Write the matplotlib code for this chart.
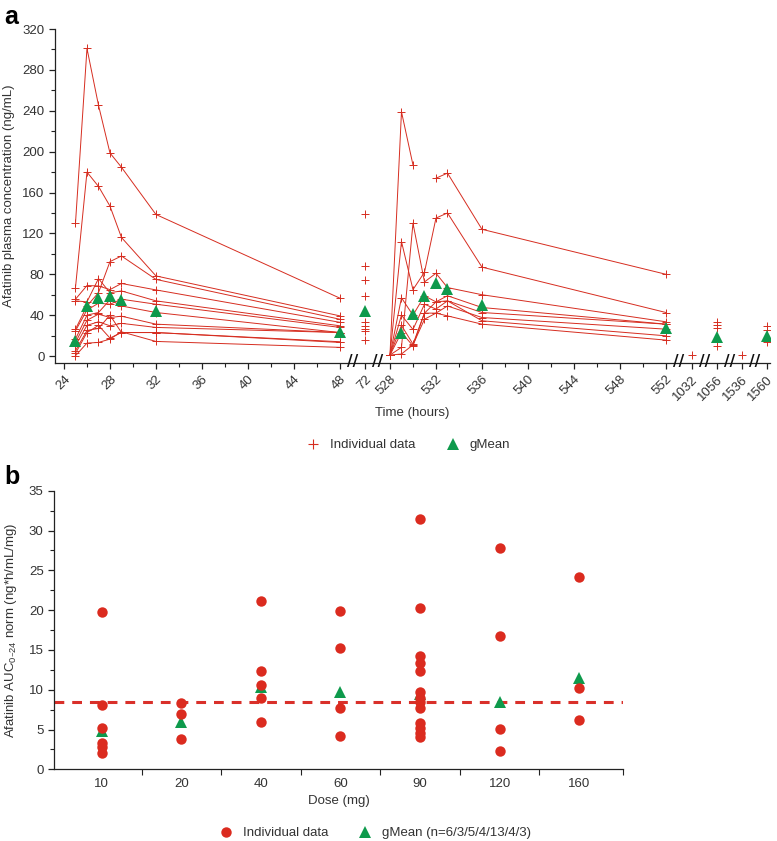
import numpy as np
import matplotlib.pyplot as plt
from matplotlib.lines import Line2D
from matplotlib.ticker import FixedLocator, MultipleLocator
import matplotlib.transforms as mtransforms

plt.rcParams['font.family'] = ['Liberation Sans', 'DejaVu Sans']
plt.rcParams['mathtext.default'] = 'regular'

RED = '#d62d20'
GREEN = '#0e9a4c'
TXT = '#333333'
FS = 9.5

# ---- panel a data: plasma concentration (ng/mL) ----
T1 = [25, 26, 27, 28, 29, 32, 48]
CYCLE1 = [
    [129.8, 301, 245.5, 198.7, 184.7, 138.5, 56.6],
    [67, 180, 166, 146.7, 116, 78.4, 39.3],
    [26.3, 49, 62, 92.4, 97.9, 75, 36],
    [55.6, 69, 68.6, 65, 71, 64.7, 33],
    [54, 53, 75.8, 62, 63.7, 54, 29.6],
    [24.7, 45, 51.7, 50.7, 55.6, 50.7, 28],
    [16.6, 40, 42.6, 55, 49, 42.6, 23],
    [13.3, 35, 41, 37.7, 39, 31.2, 23],
    [10, 30, 33.5, 29.6, 32, 28, 23],
    [5.2, 25, 27, 40, 23, 23, 14],
    [2.6, 23, 30, 17.6, 23, 23, 13.3],
    [0.3, 12.7, 13.3, 16.6, 23.7, 14.3, 8.5],
]

T2 = [528, 529, 530, 531, 532, 533, 536, 552]
CYCLE2 = [
    [1, 239, 187, np.nan, 174, 179, 124, 80],
    [1, 112, 65, 82, 135, 140, 87, 42.6],
    [1, 8.5, 130, 72.5, 81, 67, 60, 33.5],
    [1, 57, 40, 58.9, 53, 59, 47.5, 31.2],
    [1, 40, 26, 50.7, 46, 54, 42.6, 31.2],
    [1, 30, 11.7, 42, 42, 49, 37.7, 26.3],
    [1, 23, 10, 42, 53, 54, 34.5, 19.8],
    [1, 2, 11, 36, 42, 39.3, 31.2, 15.6],
]

SINGLE_T = [72, 1032, 1056, 1536, 1560]
SINGLE_VALS = [
    [138.5, 88, 74.5, 58.9, 33.8, 29.6, 26.3, 24.7, 15.6],
    [1.3],
    [33.8, 30.5, 27, 13.3, 9.4],
    [1.3],
    [29, 25.7, 13.3],
]

GM_T = [25, 26, 27, 28, 29, 32, 48, 72, 529, 530, 531, 532, 533, 536, 552, 1056, 1560]
GM_A = [14.3, 49, 57, 58.9, 54.6, 43.6, 23.7, 44, 23, 41, 58.9, 71.2, 66, 49.8, 27.3, 18.9, 19.8]

XTICKS_A = [24, 28, 32, 36, 40, 44, 48, 72, 528, 532, 536, 540, 544, 548, 552,
            1032, 1056, 1536, 1560]
XMINOR_A = [26, 30, 34, 38, 42, 46, 530, 534, 538, 542, 546, 550]
BREAKS_A = [60, 300, 792, 1044, 1296, 1548]

# ---- panel b data: dose-normalised AUC ----
DOSES = ['10', '20', '40', '60', '90', '120', '160']
AUC = [
    [19.7, 8.1, 5.15, 3.35, 2.85, 2.1],
    [8.3, 7.0, 3.8],
    [21.1, 12.3, 10.6, 9.0, 5.95],
    [19.9, 15.2, 7.66, 4.23],
    [31.5, 20.3, 14.2, 13.3, 12.4, 9.75, 9.0, 8.5, 7.66, 5.86, 5.2, 4.6, 4.1],
    [27.8, 16.7, 5.07, 2.35],
    [24.2, 10.2, 6.24],
]
GM_B = [4.8, 5.95, 10.3, 9.76, 9.5, 8.46, 11.5]
REF_LINE = 8.45

# broken time axis: piecewise linear mapping (pixel-like units)
T_KNOTS = [-1e5, 24, 48, 72, 528, 552, 1032, 1056, 1536, 1560, 1e5]
P_KNOTS = [-(1e5 + 24) * 11.5, 0, 276, 301, 326, 602, 628, 653, 678, 703,
           703 + (1e5 - 1560) * 25 / 24]


def fwd(x):
    return np.interp(np.asarray(x, dtype=float), T_KNOTS, P_KNOTS)


def inv(p):
    return np.interp(np.asarray(p, dtype=float), P_KNOTS, T_KNOTS)


fig = plt.figure(figsize=(7.77, 8.41), dpi=100)

# ================= panel a =================
axa = fig.add_axes([55 / 777, 1 - 363 / 841, 715 / 777, 334 / 841])
axa.set_xscale('function', functions=(fwd, inv))

for row in CYCLE1:
    axa.plot(T1, row, color=RED, lw=0.7, marker='+', ms=5.5, mew=0.7, zorder=2)
for row in CYCLE2:
    axa.plot(T2, row, color=RED, lw=0.7, marker='+', ms=5.5, mew=0.7, zorder=2)
for t, vals in zip(SINGLE_T, SINGLE_VALS):
    axa.plot([t] * len(vals), vals, ls='none', color=RED, marker='+', ms=5.5,
             mew=0.7, zorder=2)
axa.plot(GM_T, GM_A, ls='none', marker='^', color=GREEN, ms=9, mew=0, zorder=3)

axa.set_xlim(23.22, 1562.9)
axa.set_ylim(-6.8, 320)
axa.xaxis.set_major_locator(FixedLocator(XTICKS_A))
axa.xaxis.set_minor_locator(FixedLocator(XMINOR_A))
axa.set_xticklabels([str(t) for t in XTICKS_A], rotation=45, ha='right',
                    rotation_mode='anchor')
axa.yaxis.set_major_locator(MultipleLocator(40))
axa.yaxis.set_minor_locator(MultipleLocator(20))

# axis-break marks
trans = mtransforms.blended_transform_factory(axa.transData, axa.transAxes)
for b in BREAKS_A:
    axa.text(b, 0.004, '//', transform=trans, ha='center', va='center',
             fontsize=11, fontweight='bold', color='#111111', clip_on=False,
             family='DejaVu Sans')

axa.set_xlabel('Time (hours)', fontsize=FS, color=TXT, labelpad=3)
axa.set_ylabel('Afatinib plasma concentration (ng/mL)', fontsize=FS,
               color=TXT, labelpad=5)

# ================= panel b =================
axb = fig.add_axes([54 / 777, 1 - 769.3 / 841, 569 / 777, 278.6 / 841])
axb.axhline(REF_LINE, color='#d9302a', lw=2.2, ls=(0, (3.2, 2.6)), zorder=1)
axb.plot(range(len(DOSES)), GM_B, ls='none', marker='^', color=GREEN, ms=8,
         mew=0, zorder=2)
for i, vals in enumerate(AUC):
    axb.plot([i] * len(vals), vals, ls='none', marker='o', color='#db2b1f',
             ms=7.5, mew=0, zorder=3)

axb.set_xlim(-0.6, 6.55)
axb.set_ylim(0, 35)
axb.set_xticks(range(len(DOSES)))
axb.set_xticklabels(DOSES)
axb.xaxis.set_minor_locator(FixedLocator([0.5, 1.5, 2.5, 3.5, 4.5, 5.5, 6.55]))
axb.yaxis.set_major_locator(MultipleLocator(5))
axb.yaxis.set_minor_locator(MultipleLocator(2.5))
axb.set_xlabel('Dose (mg)', fontsize=FS, color=TXT, labelpad=4)
axb.set_ylabel('Afatinib AUC$_{0\u201324}$ norm (ng*h/mL/mg)', fontsize=FS,
               color=TXT, labelpad=7)

for ax in (axa, axb):
    for side in ('top', 'right'):
        ax.spines[side].set_visible(False)
    for side in ('left', 'bottom'):
        ax.spines[side].set_color('#222222')
        ax.spines[side].set_linewidth(0.9)
    ax.tick_params(which='major', direction='out', length=4, width=0.9,
                   color='#222222', labelsize=FS, labelcolor=TXT)
    ax.tick_params(which='minor', direction='out', length=3, width=0.8,
                   color='#222222')
axb.tick_params(axis='x', which='major', length=0, pad=6)
axb.tick_params(axis='x', which='minor', length=4)

# legends
ha = [Line2D([], [], ls='none', marker='+', color=RED, ms=7.5, mew=0.8),
      Line2D([], [], ls='none', marker='^', color=GREEN, ms=9, mew=0)]
fig.legend(ha, ['Individual data', 'gMean'], loc='center', ncol=2,
           frameon=False, fontsize=FS, labelcolor=TXT, handletextpad=0.3,
           columnspacing=1.8, bbox_to_anchor=(405 / 777, 1 - 445 / 841))
hb = [Line2D([], [], ls='none', marker='o', color='#db2b1f', ms=7.5, mew=0),
      Line2D([], [], ls='none', marker='^', color=GREEN, ms=8.5, mew=0)]
fig.legend(hb, ['Individual data', 'gMean (n=6/3/5/4/13/4/3)'], loc='center',
           ncol=2, frameon=False, fontsize=FS, labelcolor=TXT,
           handletextpad=0.3, columnspacing=1.8,
           bbox_to_anchor=(372 / 777, 1 - 833 / 841))

fig.text(4 / 777, 1 - 24 / 841, 'a', fontsize=18, fontweight='bold')
fig.text(4 / 777, 1 - 484 / 841, 'b', fontsize=18, fontweight='bold')

fig.savefig('out.png', dpi=100)
